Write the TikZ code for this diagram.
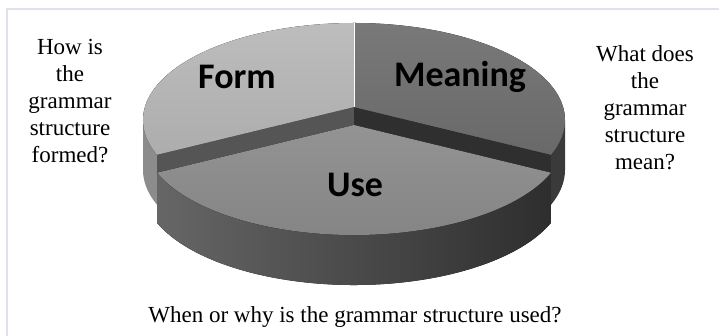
\documentclass[tikz,border=0pt]{standalone}
\usepackage{fontspec}
\setmainfont{Liberation Serif}
\newfontfamily\slicefont{Carlito}
\definecolor{formtop}{HTML}{C0C0C0}
\definecolor{formwall}{HTML}{8C8C8C}
\definecolor{formcut}{HTML}{555555}
\definecolor{meaningtop}{HTML}{727272}
\definecolor{meaningwall}{HTML}{3A3A3A}
\definecolor{meaningcut}{HTML}{2F2F2F}
\definecolor{usetop}{HTML}{8A8A8A}
\definecolor{frameline}{HTML}{DDE3E8}
\tikzset{
  question/.style={font=\fontsize{23}{27}\selectfont, align=center},
  slicelabel/.style={font=\slicefont\bfseries\fontsize{36}{40}\selectfont},
  arcpart/.style={x radius=211pt, y radius=97pt}
}
\begin{document}
\begin{tikzpicture}[x=1pt,y=1pt]
    \useasboundingbox (0,0) rectangle (719,336);
    \draw[frameline,line width=1.2pt] (7,0) -- (7,327) -- (719,327);
    % centres of the top faces
    \coordinate (c) at (354,216);
    \coordinate (v) at (354,229);
    \coordinate (cu) at (354,198);
    \coordinate (vu) at (354,211);
    % walls of the back slices
    \fill[formwall] ([shift={(c)}]180:211pt and 97pt) arc[start angle=180,end angle=201,arcpart]
        -- ++(0,-50) arc[start angle=201,end angle=180,arcpart] -- cycle;
    \fill[meaningwall] ([shift={(c)}]339:211pt and 97pt) arc[start angle=339,end angle=360,arcpart]
        -- ++(0,-50) arc[start angle=360,end angle=339,arcpart] -- cycle;
    \fill[formcut] (v) -- ([shift={(c)}]201:211pt and 97pt) -- ++(0,-50) -- ([yshift=-50pt]v) -- cycle;
    \fill[meaningcut] (v) -- ([shift={(c)}]339:211pt and 97pt) -- ++(0,-50) -- ([yshift=-50pt]v) -- cycle;
    % top faces of the back slices
    \fill[top color=formtop!105!white, bottom color=formtop!90!black]
        (v) -- ([shift={(c)}]201:211pt and 97pt) arc[start angle=201,end angle=90,arcpart] -- cycle;
    \fill[top color=meaningtop!95!white, bottom color=meaningtop!92!black]
        (v) -- ([shift={(c)}]90:211pt and 97pt) arc[start angle=90,end angle=-21,arcpart] -- cycle;
    \draw[white,line width=0.8pt] (v) -- ([shift={(c)}]90:211pt and 97pt);
    % the slice pulled out to the front
    \fill[left color=black!60, right color=black!82]
        ([shift={(cu)}]201:211pt and 97pt) arc[start angle=201,end angle=339,arcpart]
        -- ++(0,-50) arc[start angle=339,end angle=201,arcpart] -- cycle;
    \fill[top color=usetop!92!white, bottom color=usetop!95!black]
        (vu) -- ([shift={(cu)}]201:211pt and 97pt) arc[start angle=201,end angle=339,arcpart] -- cycle;
    % labels
    \node[slicelabel] (form) at (237,259) {Form};
    \node[slicelabel] (meaning) at (460,259) {Meaning};
    \node[slicelabel] (use) at (355,151) {Use};
    \node[question] (formq) at (70,235) {How is\\the\\grammar\\structure\\formed?};
    \node[question] (meaningq) at (645,228) {What does\\the\\grammar\\structure\\mean?};
    \node[question] (useq) at (355,19) {When or why is the grammar structure used?};
\end{tikzpicture}
\end{document}
